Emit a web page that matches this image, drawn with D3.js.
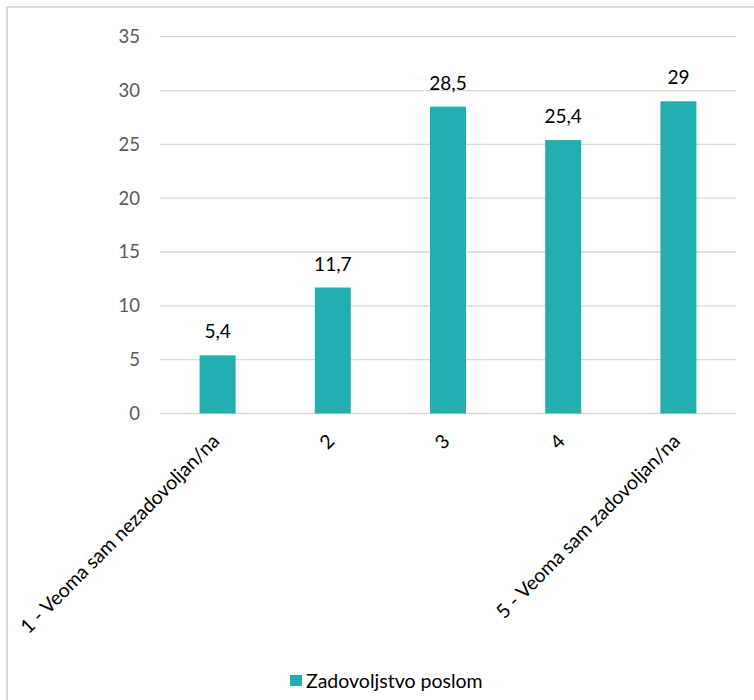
<!DOCTYPE html>
<html>
<head>
<meta charset="utf-8">
<script src="https://cdn.jsdelivr.net/npm/d3@7"></script>
<style>
  html, body { margin: 0; padding: 0; background: #fff; }
  svg { display: block; }
  text { font-family: Lato, "Open Sans", sans-serif; }
</style>
</head>
<body>
<svg id="chart" width="754" height="700"></svg>
<script>
const categories = ["1 - Veoma sam nezadovoljan/na", "2", "3", "4", "5 - Veoma sam zadovoljan/na"];
const values = [5.4, 11.7, 28.5, 25.4, 29];
const valueLabels = ["5,4", "11,7", "28,5", "25,4", "29"];
const yTicks = [0, 5, 10, 15, 20, 25, 30, 35];
const seriesName = "Zadovoljstvo poslom";

const color = "#23AFAF";
const FONT = "Lato, 'Open Sans', sans-serif";
const svg = d3.select("#chart");

// outer border
svg.append("rect")
  .attr("x", 7).attr("y", 7).attr("width", 780).attr("height", 740)
  .attr("fill", "none").attr("stroke", "#d9d9d9").attr("stroke-width", 2);

const plotLeft = 160, plotRight = 736, plotTop = 36.7, plotBottom = 413.5;

const x = d3.scaleBand().domain(categories).range([plotLeft, plotRight]).paddingInner(0.6875).paddingOuter(0.34375);
const y = d3.scaleLinear().domain([0, 35]).range([plotBottom, plotTop]);

// gridlines
svg.append("g").selectAll("line").data(yTicks).join("line")
  .attr("x1", plotLeft).attr("x2", plotRight)
  .attr("y1", d => y(d)).attr("y2", d => y(d))
  .attr("stroke", "#d9d9d9").attr("stroke-width", 1.3);

// y axis labels
const yAxis = d3.axisLeft(y).tickValues(yTicks).tickSize(0).tickPadding(20).tickFormat(d3.format("d"));
const yg = svg.append("g").attr("transform", `translate(${plotLeft},0)`).call(yAxis)
  .attr("font-family", FONT).attr("font-size", 18.5);
yg.select(".domain").remove();
yg.selectAll("text").attr("fill", "#595959");

// bars
svg.append("g").selectAll("rect").data(values).join("rect")
  .attr("x", (d, i) => x(categories[i]))
  .attr("width", x.bandwidth())
  .attr("y", d => y(d))
  .attr("height", d => y(0) - y(d))
  .attr("fill", color);

// value labels
svg.append("g").selectAll("text").data(values).join("text")
  .attr("x", (d, i) => x(categories[i]) + x.bandwidth() / 2)
  .attr("y", d => y(d) - 17)
  .attr("text-anchor", "middle")
  .attr("font-family", FONT)
  .attr("font-size", 19)
  .attr("fill", "#000")
  .text((d, i) => valueLabels[i]);

// x axis labels
const xAxis = d3.axisBottom(x).tickSize(0).tickPadding(0);
const xg = svg.append("g").attr("transform", `translate(0,${plotBottom})`).call(xAxis)
  .attr("font-family", FONT).attr("font-size", 19.5);
xg.select(".domain").remove();
xg.selectAll(".tick text")
  .attr("fill", "#000")
  .attr("text-anchor", "end")
  .attr("y", 0).attr("dy", 0)
  .attr("transform", "translate(3,29) rotate(-45)");

// legend
const lg = svg.append("g");
lg.append("rect").attr("x", 290).attr("y", 675).attr("width", 12).attr("height", 11).attr("fill", color);
lg.append("text").attr("x", 306).attr("y", 688).attr("font-family", FONT).attr("font-size", 19.5).attr("fill", "#000").text(seriesName);
</script>
</body>
</html>
